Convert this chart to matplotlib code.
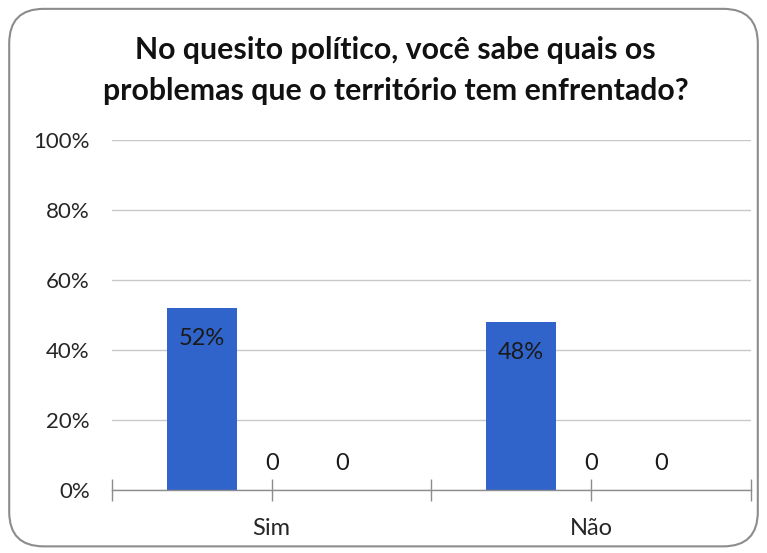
import matplotlib
matplotlib.use("Agg")
import matplotlib.pyplot as plt
from matplotlib.patches import FancyBboxPatch
import numpy as np

categories = ["Sim", "Não"]
series1 = [0.52, 0.48]
series2 = [0, 0]
series3 = [0, 0]
series1_labels = ["52%", "48%"]
series2_labels = ["0", "0"]
series3_labels = ["0", "0"]
yticks = [0, 0.2, 0.4, 0.6, 0.8, 1.0]
ytick_labels = ["0%", "20%", "40%", "60%", "80%", "100%"]
title = "No quesito político, você sabe quais os\nproblemas que o território tem enfrentado?"

plt.rcParams['font.family'] = ['Lato', 'DejaVu Sans']

fig = plt.figure(figsize=(7.67, 5.53), dpi=100, facecolor="white")
border = FancyBboxPatch((0.012, 0.012), 0.976, 0.972, boxstyle="round,pad=0,rounding_size=0.045",
                        transform=fig.transFigure, facecolor="none", edgecolor="#8c8c8c",
                        linewidth=1.5, mutation_aspect=767/553, zorder=10)
fig.patches.append(border)

ax = fig.add_axes([0.146, 0.114, 0.833, 0.633])
ax.set_facecolor("none")
x = np.arange(len(categories))
w = 0.219
bar_color = "#3164CA"
ax.bar(x - w, series1, width=w, color=bar_color, zorder=3)
ax.bar(x, series2, width=w, color=bar_color, zorder=3)
ax.bar(x + w, series3, width=w, color=bar_color, zorder=3)

for i in range(len(categories)):
    ax.text(x[i] - w, series1[i] - 0.087, series1_labels[i], ha="center", va="center",
            fontsize=17, color="#1a1a1a", zorder=4)
    ax.text(x[i], series2[i] + 0.077, series2_labels[i], ha="center", va="center",
            fontsize=17, color="#1a1a1a", zorder=4)
    ax.text(x[i] + w, series3[i] + 0.077, series3_labels[i], ha="center", va="center",
            fontsize=17, color="#1a1a1a", zorder=4)

ax.set_xlim(-0.5, 1.5)
ax.set_ylim(0, 1.0)
ax.set_yticks(yticks)
ax.set_yticklabels(ytick_labels, fontsize=16, color="#262626")
ax.yaxis.grid(True, color="#c8c8c8", linewidth=1.0, zorder=0)
ax.tick_params(axis="y", length=0, pad=16)

ax.set_xticks([-0.5, 0, 0.5, 1, 1.5])
ax.set_xticklabels(["", categories[0], "", categories[1], ""], fontsize=17, color="#262626")
ax.tick_params(axis="x", direction="inout", length=16, color="#8c8c8c", width=1.0, pad=12)

for s in ["top", "right", "left"]:
    ax.spines[s].set_visible(False)
ax.spines["bottom"].set_color("#8c8c8c")
ax.spines["bottom"].set_linewidth(1.0)
ax.spines["bottom"].set_zorder(5)

fig.text(0.516, 0.872, title, ha="center", va="center", fontsize=21.8, fontweight="bold",
         color="#111111", linespacing=1.55)

fig.savefig("out.png", dpi=100)
